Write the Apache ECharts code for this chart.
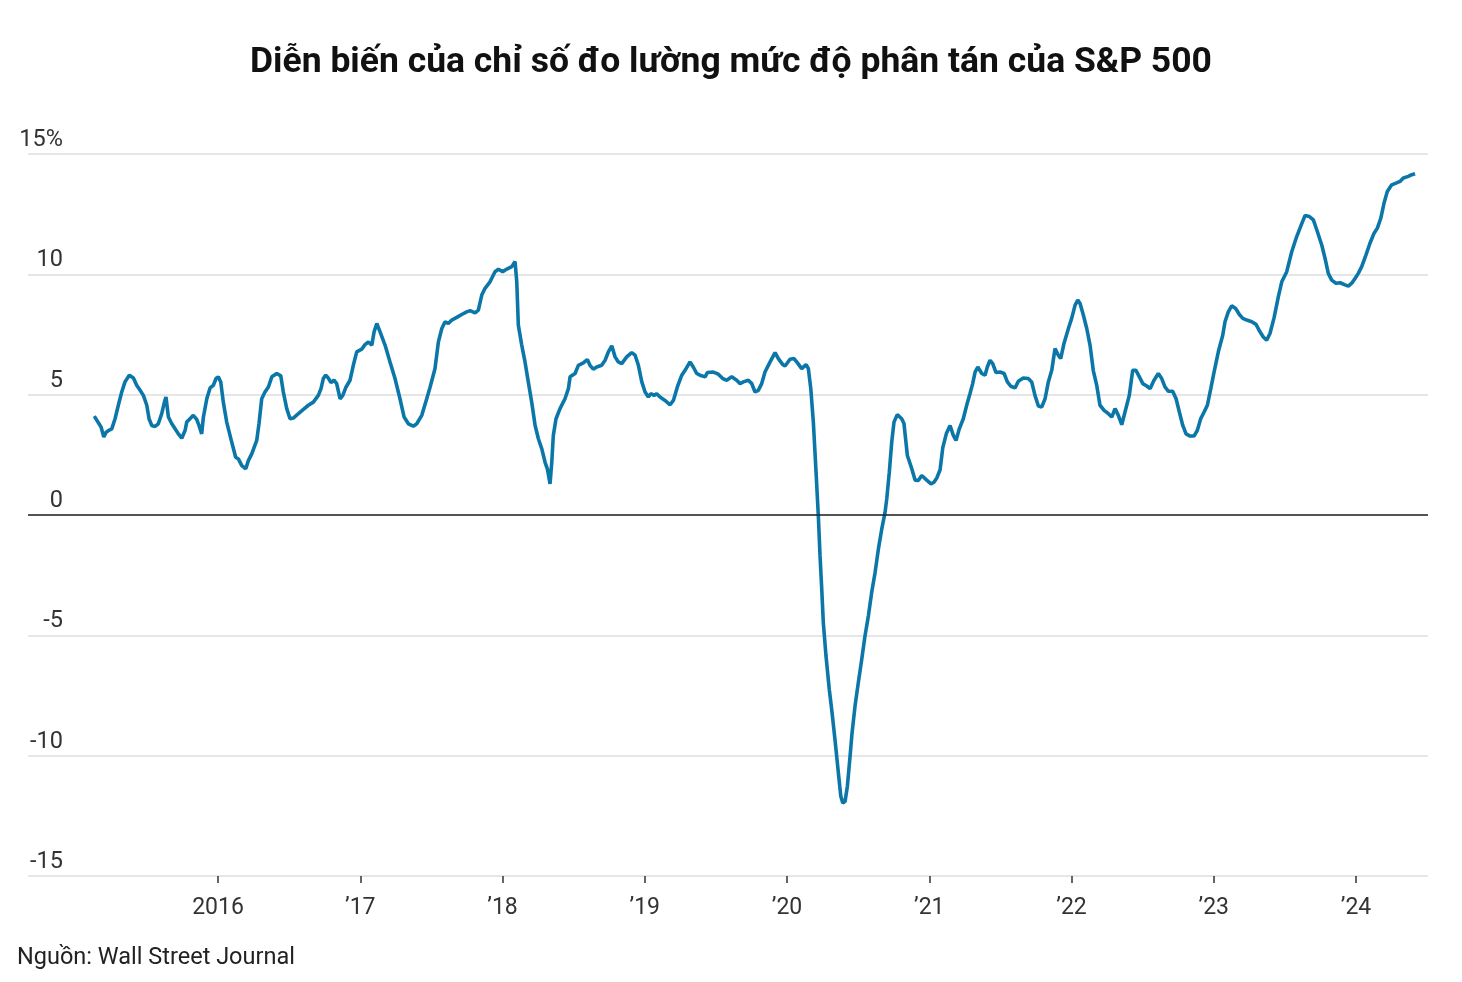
<!DOCTYPE html>
<html>
<head>
<meta charset="utf-8">
<script src="https://cdn.jsdelivr.net/npm/echarts@6/dist/echarts.min.js"></script>
<style>
html,body{margin:0;padding:0;background:#fff;}
#chart{width:1462px;height:982px;}
</style>
</head>
<body>
<div id="chart"></div>
<script>
// Decimal-year dates
const dates = [
2015.130,2015.159,2015.178,2015.197,2015.211,2015.229,2015.253,2015.276,2015.299,2015.323,
2015.346,2015.376,2015.405,2015.428,2015.452,2015.475,2015.499,2015.515,2015.534,2015.557,
2015.580,2015.604,2015.623,2015.634,2015.651,2015.675,2015.698,2015.721,2015.745,2015.768,
2015.780,2015.803,2015.826,2015.850,2015.866,2015.885,2015.897,2015.921,2015.944,2015.967,
2015.986,2016.002,2016.019,2016.037,2016.061,2016.096,2016.124,2016.143,2016.167,2016.195,
2016.213,2016.237,2016.272,2016.288,2016.307,2016.330,2016.354,2016.378,2016.413,2016.441,
2016.459,2016.483,2016.506,2016.529,2016.565,2016.600,2016.635,2016.670,2016.705,2016.724,
2016.740,2016.757,2016.775,2016.794,2016.815,2016.834,2016.858,2016.877,2016.900,2016.928,
2016.951,2016.975,2017.010,2017.033,2017.057,2017.081,2017.097,2017.116,2017.139,2017.174,
2017.209,2017.244,2017.279,2017.308,2017.338,2017.373,2017.397,2017.432,2017.467,2017.490,
2017.525,2017.549,2017.573,2017.596,2017.619,2017.643,2017.678,2017.713,2017.748,2017.772,
2017.807,2017.830,2017.854,2017.877,2017.912,2017.947,2017.971,2018.001,2018.030,2018.065,
2018.088,2018.100,2018.111,2018.135,2018.158,2018.181,2018.205,2018.229,2018.252,2018.276,
2018.299,2018.315,2018.334,2018.346,2018.357,2018.376,2018.404,2018.439,2018.463,2018.475,
2018.510,2018.533,2018.568,2018.596,2018.615,2018.638,2018.662,2018.697,2018.721,2018.744,
2018.768,2018.791,2018.814,2018.838,2018.873,2018.908,2018.932,2018.955,2018.979,2019.002,
2019.025,2019.042,2019.065,2019.084,2019.107,2019.142,2019.178,2019.201,2019.229,2019.260,
2019.290,2019.318,2019.341,2019.365,2019.388,2019.424,2019.440,2019.482,2019.517,2019.548,
2019.576,2019.611,2019.646,2019.670,2019.693,2019.728,2019.752,2019.775,2019.798,2019.822,
2019.845,2019.881,2019.916,2019.939,2019.970,2019.986,2020.021,2020.049,2020.072,2020.103,
2020.134,2020.150,2020.167,2020.185,2020.204,2020.220,2020.232,2020.244,2020.255,2020.274,
2020.297,2020.314,2020.337,2020.361,2020.378,2020.392,2020.408,2020.424,2020.443,2020.457,
2020.478,2020.501,2020.525,2020.548,2020.572,2020.595,2020.619,2020.642,2020.666,2020.689,
2020.701,2020.719,2020.736,2020.752,2020.775,2020.806,2020.822,2020.846,2020.877,2020.900,
2020.923,2020.947,2020.982,2021.012,2021.033,2021.054,2021.076,2021.095,2021.121,2021.146,
2021.169,2021.188,2021.211,2021.239,2021.263,2021.286,2021.305,2021.322,2021.341,2021.369,
2021.392,2021.408,2021.427,2021.446,2021.469,2021.497,2021.526,2021.549,2021.573,2021.603,
2021.626,2021.661,2021.696,2021.720,2021.743,2021.767,2021.791,2021.814,2021.837,2021.861,
2021.884,2021.907,2021.924,2021.947,2021.978,2022.001,2022.025,2022.044,2022.060,2022.083,
2022.107,2022.130,2022.153,2022.177,2022.200,2022.229,2022.259,2022.283,2022.306,2022.329,
2022.353,2022.376,2022.406,2022.430,2022.453,2022.477,2022.501,2022.529,2022.552,2022.580,
2022.610,2022.634,2022.657,2022.681,2022.711,2022.735,2022.758,2022.782,2022.805,2022.833,
2022.861,2022.884,2022.908,2022.932,2022.955,2022.979,2023.002,2023.032,2023.063,2023.079,
2023.102,2023.126,2023.154,2023.180,2023.204,2023.232,2023.267,2023.297,2023.325,2023.348,
2023.372,2023.395,2023.424,2023.454,2023.478,2023.513,2023.548,2023.583,2023.611,2023.641,
2023.672,2023.700,2023.728,2023.759,2023.782,2023.805,2023.829,2023.859,2023.888,2023.923,
2023.946,2023.970,2023.993,2024.016,2024.040,2024.070,2024.098,2024.127,2024.150,2024.174,
2024.197,2024.220,2024.251,2024.281,2024.309,2024.333,2024.368,2024.392,2024.415
];
// Dispersion index values (%)
const values = [
4.11,3.83,3.65,3.24,3.42,3.51,3.58,4.00,4.56,5.11,
5.53,5.81,5.69,5.39,5.18,4.97,4.56,4.00,3.72,3.68,
3.79,4.21,4.69,4.90,4.07,3.79,3.58,3.37,3.19,3.51,
3.86,4.00,4.14,3.97,3.72,3.37,4.07,4.83,5.28,5.39,
5.67,5.74,5.53,4.69,3.86,3.03,2.40,2.33,2.05,1.92,
2.26,2.54,3.10,3.80,4.83,5.11,5.32,5.74,5.88,5.78,
5.11,4.42,4.00,4.03,4.21,4.39,4.56,4.69,4.97,5.25,
5.67,5.81,5.69,5.50,5.60,5.46,4.83,4.97,5.32,5.60,
6.22,6.78,6.89,7.08,7.19,7.06,7.61,7.96,7.61,7.06,
6.36,5.67,4.83,4.07,3.79,3.69,3.79,4.14,4.83,5.30,
6.08,7.19,7.75,8.03,7.96,8.10,8.21,8.33,8.44,8.49,
8.40,8.51,9.14,9.42,9.69,10.11,10.21,10.11,10.22,10.32,
10.53,9.69,7.89,7.06,6.36,5.53,4.69,3.72,3.17,2.75,
2.19,1.92,1.29,2.19,3.31,4.00,4.42,4.83,5.25,5.74,
5.88,6.22,6.32,6.46,6.22,6.06,6.15,6.22,6.43,6.78,
7.03,6.57,6.36,6.29,6.57,6.75,6.64,6.22,5.53,5.11,
4.90,5.04,4.97,5.04,4.90,4.76,4.58,4.76,5.32,5.81,
6.08,6.36,6.15,5.88,5.81,5.74,5.92,5.94,5.85,5.67,
5.60,5.74,5.60,5.46,5.53,5.60,5.46,5.11,5.18,5.46,
5.94,6.36,6.75,6.50,6.25,6.19,6.47,6.50,6.33,6.08,
6.25,6.08,5.25,3.86,1.78,-0.03,-1.70,-3.08,-4.47,-5.86,
-7.25,-8.08,-9.33,-10.72,-11.69,-11.97,-11.90,-11.28,-10.03,-9.06,
-7.94,-6.97,-6.00,-5.03,-4.19,-3.22,-2.39,-1.42,-0.58,0.11,
0.67,1.78,3.03,3.86,4.17,4.00,3.80,2.47,1.92,1.45,
1.43,1.64,1.45,1.29,1.36,1.55,1.88,2.80,3.40,3.72,
3.31,3.10,3.58,4.00,4.56,5.04,5.46,5.94,6.15,5.88,
5.81,6.15,6.43,6.29,5.92,5.94,5.88,5.53,5.35,5.28,
5.56,5.69,5.67,5.53,4.97,4.53,4.49,4.83,5.53,6.01,
6.92,6.64,6.50,7.13,7.75,8.17,8.72,8.93,8.79,8.31,
7.75,7.06,6.00,5.39,4.56,4.35,4.21,4.07,4.42,4.14,
3.75,4.28,4.97,6.01,6.01,5.74,5.46,5.36,5.25,5.60,
5.88,5.67,5.32,5.14,5.14,4.83,4.28,3.72,3.37,3.28,
3.28,3.51,4.00,4.28,4.56,5.25,5.94,6.78,7.47,8.03,
8.44,8.69,8.58,8.33,8.17,8.10,8.03,7.92,7.61,7.40,
7.26,7.54,8.20,9.07,9.69,10.11,10.94,11.57,11.99,12.44,
12.40,12.26,11.78,11.22,10.67,10.04,9.76,9.63,9.65,9.56,
9.51,9.63,9.83,10.04,10.32,10.81,11.29,11.71,11.92,12.33,
12.96,13.44,13.72,13.79,13.86,14.00,14.07,14.14,14.18
];
const xTickYears = [2016,2017,2018,2019,2020,2021,2022,2023,2024];
const xTickLabels = ['2016','\u201917','\u201918','\u201919','\u201920','\u201921','\u201922','\u201923','\u201924'];
const yTicks = [-15,-10,-5,0,5,10,15];
const titleText = 'Diễn biến của chỉ số đo lường mức độ phân tán của S&P 500';
const sourceText = 'Nguồn: Wall Street Journal';

const FONT = 'Roboto, "Noto Sans", sans-serif';
const chart = echarts.init(document.getElementById('chart'), null, {renderer:'canvas'});
const seriesData = dates.map((d,i)=>[d, values[i]]);

chart.setOption({
  animation:false,
  backgroundColor:'#fff',
  title:{
    text:titleText,
    left:'center', top:40,
    textStyle:{fontFamily:FONT, fontSize:35.5, fontWeight:'bold', color:'#111'}
  },
  grid:{left:28, right:34, top:154, bottom:106, containLabel:false},
  xAxis:{
    type:'value',
    min:2014.664, max:2024.506,
    axisLine:{show:false, onZero:false},
    splitLine:{show:false},
    axisTick:{show:true, customValues:xTickYears, length:7, lineStyle:{color:'#333', width:1.5}},
    axisLabel:{
      customValues:xTickYears,
      margin:21,
      fontFamily:FONT, fontSize:23, color:'#333',
      formatter:(v)=>{const i = xTickYears.indexOf(Math.round(v)); return i>=0 ? xTickLabels[i] : '';}
    }
  },
  yAxis:{
    type:'value',
    min:-15, max:15, interval:5,
    axisLine:{show:false},
    axisTick:{show:false},
    splitLine:{show:true, lineStyle:{color:'#dedede', width:1.5}},
    axisLabel:{
      margin:-35, align:'right', verticalAlign:'bottom', padding:[0,0,2,0],
      fontFamily:FONT, fontSize:23.5, color:'#333',
      formatter:(v)=> v===15 ? '15%' : String(v)
    }
  },
  series:[{
    type:'line',
    data:seriesData,
    showSymbol:false,
    symbol:'none',
    smooth:false,
    lineStyle:{color:'#0b77a9', width:3.6},
    markLine:{
      silent:true, symbol:'none',
      label:{show:false},
      lineStyle:{color:'#222', width:1.5, type:'solid'},
      data:[{yAxis:0}]
    },
    z:3
  }],
  graphic:[{
    type:'text', left:17, top:946,
    style:{text:sourceText, font:'23.5px '+FONT, fill:'#222'}
  }]
});
</script>
</body>
</html>
